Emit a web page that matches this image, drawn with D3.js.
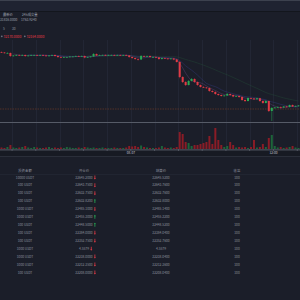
<!DOCTYPE html>
<html>
<head>
<meta charset="utf-8">
<script src="https://cdn.jsdelivr.net/npm/d3@7"></script>
<style>
html, body { margin: 0; background: #1b1e29; overflow: hidden; }
svg { display: block; }
text { font-family: "Noto Sans CJK SC", "Noto Sans", sans-serif; }
</style>
</head>
<body>
<svg id="chart" width="300" height="300"></svg>
<script>
// candle closes (15 min bars), open = previous close
const closes = [
    32240,32236,32236,32212,32216,32220,32216,32220,32212,32216,
    32220,32220,32216,32220,32216,32212,32216,32220,32212,32204,
    32200,32204,32204,32208,32208,32212,32208,32212,32200,32204,
    32208,32228,32216,32220,32220,32216,32220,32220,32216,32220,
    32216,32220,32216,32204,32196,32188,32184,32212,32208,32212,
    32204,32204,32200,32188,32196,32192,32188,32192,32184,32164,
    32044,32004,31980,32012,32028,32004,31980,31964,31960,31956,
    31932,31924,31908,31900,31892,31896,31908,31900,31888,31892,
    31884,31860,31852,31876,31872,31866,31874,31852,31836,31852,
    31772,31796,31800,31804,31800,31808,31804,31820,31808,31812,
    31816
];
const firstOpen = 32244;
const wickUp = [
    4,4,6,4,4,4,4,6,4,4,
    4,4,4,4,4,6,4,4,4,4,
    4,4,4,4,4,4,4,4,4,4,
    4,8,4,4,4,4,4,4,4,4,
    4,4,4,4,4,4,4,8,4,4,
    4,4,4,4,4,4,4,4,4,4,
    8,6,6,8,8,6,4,4,6,4,
    4,6,6,4,4,4,8,4,4,4,
    4,6,4,6,4,4,4,4,4,6,
    4,8,4,4,4,4,6,4,4,4,
    4
];
const wickDn = [
    4,4,4,6,4,4,4,4,6,4,
    4,4,4,4,4,4,4,4,4,6,
    4,4,4,4,4,4,4,4,6,4,
    4,4,4,4,4,4,4,4,4,4,
    4,4,4,6,6,6,8,4,4,4,
    4,4,4,6,4,4,4,4,6,4,
    10,8,8,4,4,6,6,4,4,6,
    6,4,6,6,4,4,4,6,6,4,
    6,6,8,4,4,6,4,6,6,4,
    8,80,4,4,6,4,4,4,4,4,
    4
];
const volumes = [
    1.5,1,2,4,1.5,1,1.5,2,3,1.5,
    1,2,1.5,1,1,1.5,2,1,1.5,1,
    1.5,1,2,1.5,1,1,1.5,1,2,1.5,
    1,1.5,1,1,1.5,1,1,1,1.5,1,
    1,1,1.5,3,2.5,3,2,3.5,2,1.5,
    1,1,1,1.5,3,1.5,1,1.5,1,2,
    17,15,7,6,3,4,4,5,6,7,
    13,5,21,9,4,2,3,7,4,1.5,
    2,1.5,2,1,2,9,1.5,2,5,2,
    11,14,3,1.5,2,1,1.5,2,3,1.5,
    1
];
const markPrice = 31788;
const maPeriods = [5, 10, 30];
const maColors = ["#7a4b95", "#3b3f96", "#24563a"];
const legendValues = ["32170.0000", "32164.0000"];

const headLabels = ["最新价", "24h成交量"];
const headValues = ["31816.0000", "1763.9240"];
const periods = ["5", "30"];

// trade table
const tableHead = ["投资金额", "开仓价", "结算价", "收益"];
const amounts = ["10000 USDT","100 USDT","100 USDT","100 USDT","1000 USDT","1000 USDT","100 USDT",
                 "100 USDT","100 USDT","1000 USDT","1000 USDT","1000 USDT","100 USDT"];
const openPrices = ["32645.2000","32643.7500","32632.7500","32632.8200","32485.1000","32455.3000","32448.5000",
                    "32384.0000","32352.7500","4.5579","32238.0000","32212.3500","32208.0000"];
const directions = ["down","down","down","up","down","up","up","down","down","down","down","down","down"];
const settlePrices = ["32645.5200","32643.7600","32632.7600","32632.8000","32485.1400","32455.3200","32448.5200",
                      "32384.0400","32352.7600","4.5579","32238.0400","32212.3600","32208.0400"];
const profits = ["100","100","100","100","100","100","100","100","100","100","100","100","100"];

const RED = "#e03a45", GREEN = "#27a954";
const VRED = "#8a1c26", VGREEN = "#1d653a";
const TXT = "#8b909d";

const svg = d3.select("#chart");

// top bar
svg.append("rect").attr("x", 0).attr("y", 0).attr("width", 300).attr("height", 11).attr("fill", "#1f2331");
svg.append("line").attr("x1", 0).attr("x2", 300).attr("y1", 0.5).attr("y2", 0.5).attr("stroke", "#3c414e");
svg.append("line").attr("x1", 0).attr("x2", 300).attr("y1", 11.5).attr("y2", 11.5).attr("stroke", "#13161d");

// header texts
const hx = [3, 22];
headLabels.forEach((t, i) => {
    svg.append("text").attr("x", hx[i]).attr("y", 16).attr("font-size", 3.3).attr("fill", "#9ba0ac").text(t);
    svg.append("text").attr("x", hx[i] - (i ? 1 : 3)).attr("y", 21).attr("font-size", 3.3).attr("fill", "#9ba0ac").text(headValues[i]);
});
periods.forEach((t, i) => {
    svg.append("text").attr("x", i ? 12 : 3).attr("y", 29.5).attr("font-size", 3.3).attr("fill", "#8d92a0").text(t);
});

// legend
legendValues.forEach((v, i) => {
    const lx = i ? 24 : 1;
    svg.append("circle").attr("cx", lx + 0.8).attr("cy", 36.3).attr("r", 0.9).attr("fill", "#6d7280");
    svg.append("text").attr("x", lx + 2.5).attr("y", 37.5).attr("font-size", 3.4).attr("fill", RED).text(v);
});

// scales
const n = closes.length;
const start = new Date(2021, 7, 6, 12, 59);
const step = 15 * 60000;
const times = closes.map((c, i) => new Date(+start + (i + 0.5) * step));
const x = d3.scaleTime().domain([start, new Date(+start + n * step)]).range([0, 300]);
const y = d3.scaleLinear().domain([31700, 32300]).range([120, 45]);
const yv = d3.scaleLinear().domain([0, 25]).range([149, 124]);
const bw = 2;

const candles = closes.map((c, i) => {
    const o = i ? closes[i - 1] : firstOpen;
    return {t: times[i], o, c, h: Math.max(o, c) + wickUp[i], l: Math.min(o, c) - wickDn[i], v: volumes[i]};
});

// vertical grid
const ticks = x.ticks(d3.timeHour.every(2));
svg.append("g").selectAll("line").data(ticks).join("line")
    .attr("x1", d => Math.round(x(d)) + 0.5).attr("x2", d => Math.round(x(d)) + 0.5)
    .attr("y1", 40).attr("y2", 149)
    .attr("stroke", "#222634").attr("stroke-width", 1);

// price mark line
svg.append("line").attr("x1", 0).attr("x2", 300).attr("y1", y(markPrice)).attr("y2", y(markPrice))
    .attr("stroke", "#6a3a2a").attr("stroke-width", 0.7).attr("stroke-dasharray", "1.5,1");

// moving averages
maPeriods.forEach((p, k) => {
    const ma = candles.map((d, i) => i >= p - 1 ? d3.mean(closes.slice(i - p + 1, i + 1)) : null);
    svg.append("path")
        .datum(candles.map((d, i) => [d.t, ma[i]]))
        .attr("fill", "none").attr("stroke", maColors[k]).attr("stroke-width", 0.6)
        .attr("stroke-opacity", 0.55)
        .attr("d", d3.line().defined(d => d[1] !== null).x(d => x(d[0])).y(d => y(d[1])));
});

// candles
const cg = svg.append("g").selectAll("g").data(candles).join("g");
cg.append("line")
    .attr("x1", d => x(d.t)).attr("x2", d => x(d.t))
    .attr("y1", d => y(d.h)).attr("y2", d => y(d.l))
    .attr("stroke", d => d.c >= d.o ? GREEN : RED).attr("stroke-width", 0.5);
cg.append("rect")
    .attr("x", d => x(d.t) - bw / 2).attr("width", bw)
    .attr("y", d => y(Math.max(d.o, d.c)))
    .attr("height", d => Math.max(0.7, y(Math.min(d.o, d.c)) - y(Math.max(d.o, d.c))))
    .attr("fill", d => d.c >= d.o ? GREEN : RED);

// chart / volume separator
svg.append("line").attr("x1", 0).attr("x2", 300).attr("y1", 122.5).attr("y2", 122.5)
    .attr("stroke", "#565b67").attr("stroke-width", 1);

// volume bars
svg.append("g").selectAll("rect").data(candles).join("rect")
    .attr("x", d => x(d.t) - bw / 2).attr("width", bw)
    .attr("y", d => yv(d.v)).attr("height", d => yv(0) - yv(d.v))
    .attr("fill", d => d.c >= d.o ? VGREEN : VRED);

// time axis
svg.append("rect").attr("x", 0).attr("y", 150).attr("width", 300).attr("height", 6).attr("fill", "#171a23");
svg.append("line").attr("x1", 0).attr("x2", 300).attr("y1", 149.8).attr("y2", 149.8)
    .attr("stroke", "#4c515d").attr("stroke-width", 1.2);
svg.append("line").attr("x1", 0).attr("x2", 300).attr("y1", 156.5).attr("y2", 156.5)
    .attr("stroke", "#2a2e39").attr("stroke-width", 1);
svg.append("g").selectAll("circle").data(ticks).join("circle")
    .attr("cx", d => x(d)).attr("cy", 150).attr("r", 0.5).attr("fill", "#7c818d");
const fmt = d => d.getHours() === 0 ? d3.timeFormat("%m-%d")(d) : d3.timeFormat("%H:%M")(d);
svg.append("g").selectAll("text").data(ticks.filter(d => d.getHours() % 12 === 0)).join("text")
    .attr("x", d => x(d)).attr("y", 154.3).attr("text-anchor", "middle")
    .attr("font-size", 3.2).attr("fill", "#c4c8d0").text(fmt);

// table
const colX = [25, 84, 161, 237];
const rowY = d3.scalePoint().domain(d3.range(amounts.length)).range([178.5, 273.5]);
tableHead.forEach((t, i) => {
    svg.append("text").attr("x", colX[i]).attr("y", 171.5).attr("text-anchor", "middle")
        .attr("font-size", 3.4).attr("fill", TXT).text(t);
});
svg.append("line").attr("x1", 0).attr("x2", 300).attr("y1", 174.5).attr("y2", 174.5)
    .attr("stroke", "#232733").attr("stroke-width", 0.8);

const arrowUp = "M0,-2.1L1.1,-0.7L0.4,-0.7L0.4,1.9L-0.4,1.9L-0.4,-0.7L-1.1,-0.7Z";
amounts.forEach((a, i) => {
    const ry = rowY(i);
    const cells = [a, openPrices[i], settlePrices[i], profits[i]];
    cells.forEach((c, j) => {
        const t = svg.append("text").attr("x", colX[j]).attr("y", ry).attr("text-anchor", "middle")
            .attr("font-size", 3.3).attr("fill", TXT).text(c);
        if (j === 1) {
            const w = t.node().getComputedTextLength();
            const up = directions[i] === "up";
            svg.append("path").attr("d", arrowUp)
                .attr("transform", `translate(${colX[j] + w / 2 + 2.2},${ry - 1.2}) rotate(${up ? 0 : 180})`)
                .attr("fill", up ? GREEN : RED);
        }
    });
});
</script>
</body>
</html>
